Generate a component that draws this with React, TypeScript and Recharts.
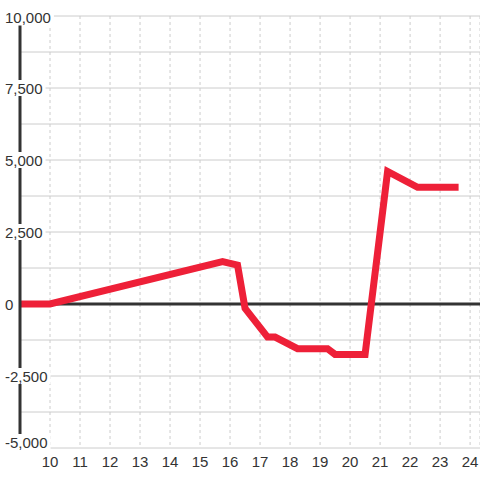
import React from 'react';
import { LineChart, Line, XAxis, YAxis, CartesianGrid, ReferenceLine } from 'recharts';

// hours of the day (x) and running value (y)
const hours = [9, 10, 15.75, 16.25, 16.5, 17.25, 17.5, 18.25, 19.25, 19.5, 20.5, 21.25, 22.25, 23.5];
const values = [0, 0, 1470, 1350, -150, -1150, -1150, -1550, -1550, -1750, -1750, 4600, 4050, 4050];

const xTicks = [10, 11, 12, 13, 14, 15, 16, 17, 18, 19, 20, 21, 22, 23, 24];
const yTicks = [-5000, -3750, -2500, -1250, 0, 1250, 2500, 3750, 5000, 6250, 7500, 8750, 10000];
const yLabelStep = 2500;

const FONT = '"Liberation Sans", Arial, sans-serif';
const TEXT = '#333333';

const data = hours.map((h, i) => ({ hour: h, value: values[i] }));

const textWidth = (s: string) =>
  s.split('').reduce((w, c) => w + (c === ',' ? 4.2 : c === '-' ? 5 : 8.34), 0);

const YTick = (props: any) => {
  const { y, payload } = props;
  const v = payload.value as number;
  if (v % yLabelStep !== 0) return null;
  const label = v.toLocaleString('en-US');
  const w = textWidth(label);
  // edge labels are kept inside the chart
  const cy = Math.min(Math.max(y, 17.5), 442);
  return (
    <g>
      <rect x={2} y={cy - 8} width={w + 6} height={16} fill="#ffffff" />
      <text x={5} y={cy + 5.5} textAnchor="start" fontSize={15} fontFamily={FONT} fill={TEXT}>
        {label}
      </text>
    </g>
  );
};

const XTick = (props: any) => {
  const { x, payload } = props;
  return (
    <text x={x} y={467} textAnchor="middle" fontSize={15} fontFamily={FONT} fill={TEXT}>
      {payload.value}
    </text>
  );
};

export default function App() {
  return (
    <div style={{ position: 'absolute', left: 0, top: 0, background: '#fff' }}>
      <LineChart width={480} height={480} data={data} margin={{ top: 16, right: 0, bottom: 0, left: 0 }}>
        <CartesianGrid vertical={false} stroke="#cccccc" strokeWidth={1} />
        <CartesianGrid horizontal={false} stroke="#cccccc" strokeWidth={1} strokeDasharray="3 3" />
        <ReferenceLine y={0} stroke="#333333" strokeWidth={3} />
        <XAxis
          type="number"
          dataKey="hour"
          domain={[9, 24.33]}
          ticks={xTicks}
          interval={0}
          allowDataOverflow
          axisLine={false}
          tickLine={false}
          height={32}
          tick={<XTick />}
        />
        <YAxis
          type="number"
          domain={[-5000, 10000]}
          ticks={yTicks}
          interval={0}
          width={20}
          axisLine={{ stroke: '#333333', strokeWidth: 3 }}
          tickLine={false}
          tick={<YTick />}
        />
        <Line
          type="linear"
          dataKey="value"
          stroke="#ee2038"
          strokeWidth={7}
          strokeLinecap="square"
          dot={false}
          activeDot={false}
          isAnimationActive={false}
        />
      </LineChart>
    </div>
  );
}
